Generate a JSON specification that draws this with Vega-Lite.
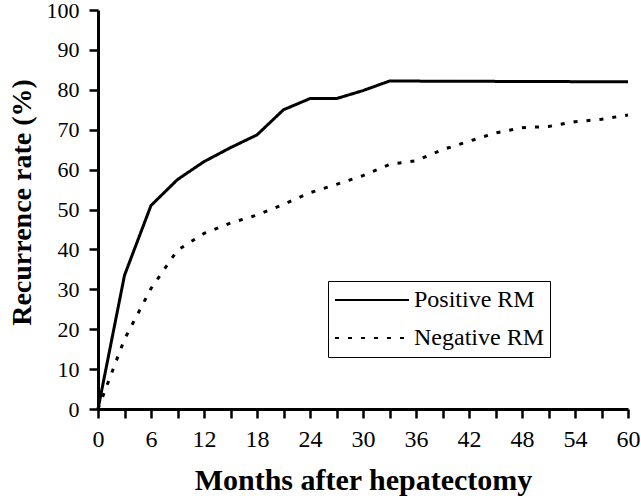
{
  "$schema": "https://vega.github.io/schema/vega-lite/v6.json",
  "width": 530,
  "height": 399,
  "autosize": {"type": "none"},
  "padding": {"left": 98, "top": 10, "right": 13, "bottom": 91},
  "background": "white",
  "config": {
    "view": {"stroke": null},
    "font": "Liberation Serif",
    "style": {
      "guide-label": {"font": "Liberation Serif", "fill": "black"},
      "guide-title": {"font": "Liberation Serif", "fill": "black"}
    }
  },
  "data": {
    "values": [
      {"month": 0, "rate": 0, "group": "Positive RM"},
      {"month": 3, "rate": 33.5, "group": "Positive RM"},
      {"month": 6, "rate": 51, "group": "Positive RM"},
      {"month": 9, "rate": 57.5, "group": "Positive RM"},
      {"month": 12, "rate": 62, "group": "Positive RM"},
      {"month": 15, "rate": 65.5, "group": "Positive RM"},
      {"month": 18, "rate": 68.7, "group": "Positive RM"},
      {"month": 21, "rate": 75, "group": "Positive RM"},
      {"month": 24, "rate": 77.8, "group": "Positive RM"},
      {"month": 27, "rate": 77.8, "group": "Positive RM"},
      {"month": 30, "rate": 79.8, "group": "Positive RM"},
      {"month": 33, "rate": 82.2, "group": "Positive RM"},
      {"month": 60, "rate": 82, "group": "Positive RM"},
      {"month": 0, "rate": 0, "group": "Negative RM"},
      {"month": 3, "rate": 17.5, "group": "Negative RM"},
      {"month": 6, "rate": 30.2, "group": "Negative RM"},
      {"month": 9, "rate": 39.8, "group": "Negative RM"},
      {"month": 12, "rate": 44, "group": "Negative RM"},
      {"month": 15, "rate": 46.6, "group": "Negative RM"},
      {"month": 18, "rate": 48.6, "group": "Negative RM"},
      {"month": 21, "rate": 51.3, "group": "Negative RM"},
      {"month": 24, "rate": 54.2, "group": "Negative RM"},
      {"month": 27, "rate": 56.3, "group": "Negative RM"},
      {"month": 30, "rate": 58.5, "group": "Negative RM"},
      {"month": 33, "rate": 61.3, "group": "Negative RM"},
      {"month": 36, "rate": 62.2, "group": "Negative RM"},
      {"month": 39, "rate": 65, "group": "Negative RM"},
      {"month": 42, "rate": 67.1, "group": "Negative RM"},
      {"month": 45, "rate": 69.2, "group": "Negative RM"},
      {"month": 48, "rate": 70.5, "group": "Negative RM"},
      {"month": 51, "rate": 70.8, "group": "Negative RM"},
      {"month": 54, "rate": 72, "group": "Negative RM"},
      {"month": 57, "rate": 72.6, "group": "Negative RM"},
      {"month": 60, "rate": 73.7, "group": "Negative RM"}
    ]
  },
  "mark": {"type": "line", "color": "black", "strokeWidth": 3, "strokeCap": "butt"},
  "encoding": {
    "x": {
      "field": "month",
      "type": "quantitative",
      "scale": {"domain": [0, 60], "nice": false, "zero": true},
      "axis": {
        "values": [0,3,6,9,12,15,18,21,24,27,30,33,36,39,42,45,48,51,54,57,60],
        "labelExpr": "datum.value % 6 == 0 ? datum.label : ''",
        "grid": false,
        "domainColor": "black",
        "domainWidth": 3,
        "tickColor": "black",
        "tickWidth": 2.5,
        "tickSize": 9,
        "labelFont": "Liberation Serif",
        "labelFontSize": 24,
        "labelColor": "black",
        "labelPadding": 9,
        "labelDx": -6,
        "labelFlush": false,
        "labelOverlap": false,
        "title": "Months after hepatectomy",
        "titleFont": "Liberation Serif",
        "titleFontSize": 30,
        "titleFontWeight": "bold",
        "titleColor": "black",
        "titlePadding": 14
      }
    },
    "y": {
      "field": "rate",
      "type": "quantitative",
      "scale": {"domain": [0, 100], "nice": false},
      "axis": {
        "values": [0,10,20,30,40,50,60,70,80,90,100],
        "grid": false,
        "domainColor": "black",
        "domainWidth": 3,
        "tickColor": "black",
        "tickWidth": 2.5,
        "tickSize": 9,
        "labelFont": "Liberation Serif",
        "labelFontSize": 22,
        "labelColor": "black",
        "labelPadding": 10,
        "labelDy": 5,
        "labelFlush": false,
        "labelOverlap": false,
        "title": "Recurrence rate (%)",
        "titleFont": "Liberation Serif",
        "titleFontSize": 28,
        "titleFontWeight": "bold",
        "titleColor": "black",
        "titlePadding": 10,
        "titleY": 192
      }
    },
    "strokeDash": {
      "field": "group",
      "type": "nominal",
      "scale": {"domain": ["Positive RM", "Negative RM"], "range": [[1, 0], [4, 9]]},
      "legend": {
        "title": null,
        "orient": "none",
        "legendX": 230,
        "legendY": 271,
        "direction": "vertical",
        "strokeColor": "black",
        "fillColor": "white",
        "padding": 6,
        "clipHeight": 26,
        "symbolType": "stroke",
        "symbolSize": 5476,
        "symbolStrokeWidth": 2,
        "symbolStrokeColor": "black",
        "labelFont": "Liberation Serif",
        "labelFontSize": 24,
        "labelColor": "black",
        "labelOffset": 4,
        "rowPadding": 12,
        "labelLimit": 300
      }
    }
  }
}
